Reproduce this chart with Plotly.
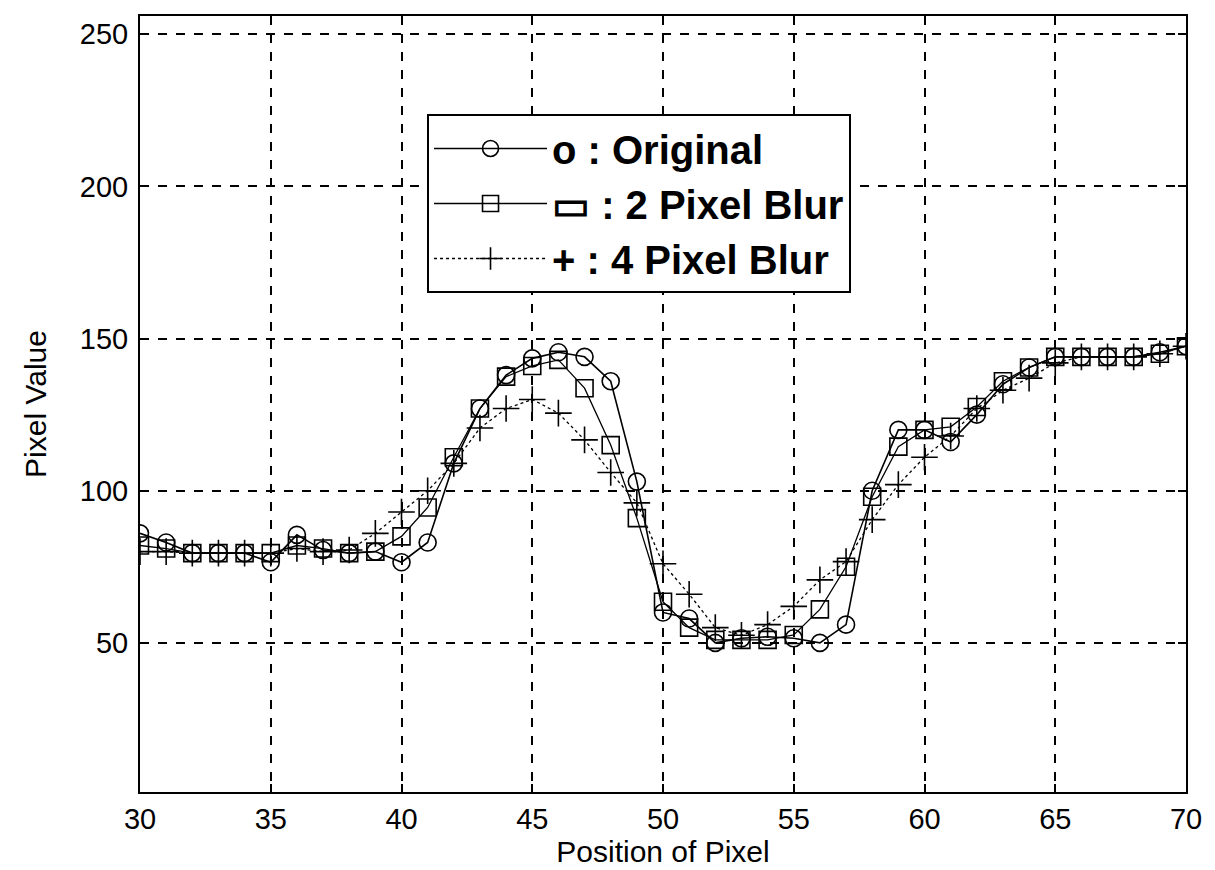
import plotly.graph_objects as go

positions = list(range(30, 71))
original = [86, 83, 79.5, 79.5, 79.5, 76.5, 85.5, 80.5, 79.5, 80, 76.5, 83,
            109, 127, 138, 143.5, 145.5, 144, 136, 103, 60, 58, 50, 51.5, 52,
            51.5, 50, 56, 100, 120, 120, 116, 125, 135, 140.5, 144, 144, 144,
            144, 145.5, 147.5]
blur2 = [82, 81, 79.5, 79.5, 79.5, 79.5, 82, 81, 79.5, 80, 85, 94.5,
         111, 127, 137.5, 141, 143, 133.7, 115, 91, 63.5, 55, 51, 51, 51,
         52.6, 61, 75, 98, 114.5, 120, 121, 127.5, 136, 140.5, 144, 144, 144,
         144, 145, 147.5]
blur4 = [80, 80, 79.5, 79.5, 79.5, 79.5, 81, 80, 80.5, 86, 93, 100,
         109, 120.6, 127, 130, 125.5, 116.7, 106, 96, 76, 66, 55, 52.5, 56,
         62, 70.7, 76.7, 90.5, 102, 111, 118, 127, 133, 137, 142, 144, 144,
         144, 145, 147.5]

x_ticks = [30, 35, 40, 45, 50, 55, 60, 65, 70]
y_ticks = [50, 100, 150, 200, 250]

FONT = "Liberation Sans, Arial"

fig = go.Figure()
fig.add_trace(go.Scatter(
    x=positions, y=original, mode="lines+markers", name="o : Original",
    line=dict(color="black", width=1.6),
    marker=dict(symbol="circle-open", size=17, color="black", line=dict(width=1.6)),
    cliponaxis=True))
fig.add_trace(go.Scatter(
    x=positions, y=blur2, mode="lines+markers", name="\u25ad : 2 Pixel Blur",
    line=dict(color="black", width=1.3),
    marker=dict(symbol="square-open", size=17, color="black", line=dict(width=1.6)),
    cliponaxis=True))
fig.add_trace(go.Scatter(
    x=positions, y=blur4, mode="lines+markers", name="+ : 4 Pixel Blur",
    line=dict(color="black", width=1.3, dash="dot"),
    marker=dict(symbol="cross-thin-open", size=19, color="black", line=dict(width=1.6)),
    cliponaxis=True))

axis_common = dict(
    showline=True, linecolor="black", linewidth=2, mirror="ticks",
    ticks="inside", ticklen=8, tickwidth=1.5, tickcolor="black",
    showgrid=True, gridcolor="black", gridwidth=1.5, griddash="dash",
    zeroline=False, automargin=False,
    tickfont=dict(family=FONT, size=29, color="black"),
)

fig.update_xaxes(range=[30, 70], tickvals=x_ticks,
                 title=dict(text="Position of Pixel", standoff=0,
                            font=dict(family=FONT, size=30, color="black")),
                 **axis_common)
fig.update_yaxes(range=[1, 256], tickvals=y_ticks, ticklabelstandoff=4,
                 title=dict(text="Pixel Value", standoff=24,
                            font=dict(family=FONT, size=30, color="black")),
                 **axis_common)

fig.update_layout(
    width=1207, height=862,
    margin=dict(l=132, r=29, t=8, b=78),
    plot_bgcolor="white", paper_bgcolor="white",
    showlegend=True,
    legend=dict(x=0.2744, y=0.8737, xanchor="left", yanchor="top",
                bgcolor="white", bordercolor="black", borderwidth=2,
                font=dict(family=FONT, size=40, color="black", weight="bold"),
                itemwidth=113, tracegroupgap=0),
)

fig.write_html("out.html")
